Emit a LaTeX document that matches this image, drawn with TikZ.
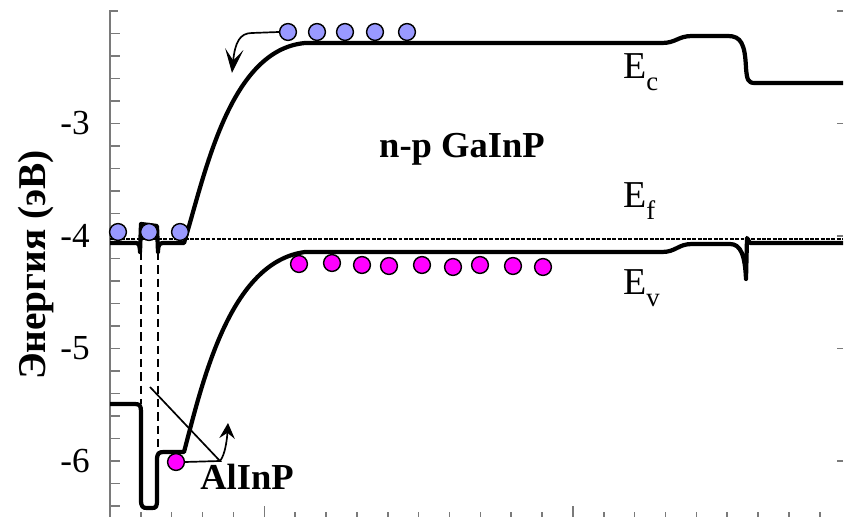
\documentclass[tikz,border=0pt]{standalone}
\usepackage{fontspec}
\setmainfont{Liberation Serif}
\usepackage{tikz}
\usetikzlibrary{arrows.meta}
\definecolor{elecblue}{HTML}{9999FF}
\definecolor{holemag}{HTML}{FF00FF}
\definecolor{axisgray}{HTML}{7A7A7A}
\newcommand{\Elvl}[1]{E\raisebox{-0.3cm}{\fontsize{19}{20}\selectfont #1}}

\begin{document}
\begin{tikzpicture}[x=0.025cm, y=-0.025cm,
    band/.style={line width=3pt, line join=round},
    fermi/.style={line width=1.4pt, dash pattern=on 2.8pt off 1pt},
    layeredge/.style={line width=1.4pt, dash pattern=on 6pt off 3.5pt},
    axisline/.style={axisgray, line width=1.1pt},
    elec/.style={circle, draw, fill=elecblue, line width=1pt, minimum size=0.42cm, inner sep=0pt},
    hole/.style={circle, draw, fill=holemag, line width=1pt, minimum size=0.42cm, inner sep=0pt},
    lvl/.style={font=\fontsize{27}{30}\selectfont, anchor=base west, inner sep=0pt},
    title/.style={font=\fontsize{26}{30}\selectfont\bfseries, anchor=base, inner sep=0pt},
    ticklbl/.style={font=\fontsize{25}{28}\selectfont, anchor=east, inner sep=0pt},
    pointer/.style={line width=1.2pt}]
  \useasboundingbox (0,0) rectangle (844,517);

  % axes
  \draw[axisline] (110,517) -- (110,11) -- (118,11);
  \foreach \k in {1,...,22} {\draw[axisline] (110,{11+22.5*\k}) -- ++(10,0);}
  \foreach \yy in {11,123.5,236,348.5,461} {\draw[axisline] (843,\yy) -- ++(-6,0);}
  \foreach \k in {1,...,23} {\draw[axisline] ({110+30.86*\k},517) -- ++(0,-5);}
  \foreach \xx in {264.3,572.9} {\draw[axisline] (\xx,517) -- ++(0,-11);}
  \node[ticklbl] (t3) at (90,123.5) {-3};
  \node[ticklbl] (t4) at (90,236) {-4};
  \node[ticklbl] (t5) at (90,348.5) {-5};
  \node[ticklbl] (t6) at (90,461) {-6};
  \node[font=\fontsize{28}{30}\selectfont\bfseries, rotate=90, anchor=base, inner sep=0pt] (ylab) at (45,265) {Энергия (эВ)};

  % Fermi level and AlInP window
  \draw[fermi] (110,239) -- (843,239);
  \draw[layeredge] (141,252) -- (141,404);
  \draw[layeredge] (158,252) -- (158,447);

  % conduction band
  \draw[band] (110,243) -- (136,243) .. controls (139,243) and (140,246) .. (140,252) -- (141,224) -- (157,226)
    -- (158,252) .. controls (158,246) and (159,243) .. (163,243) -- (184,243)
    .. controls (205,175) and (229,50) .. (305,43) -- (662,43)
    .. controls (676,43) and (678,36) .. (692,36) -- (728,36)
    .. controls (741,36) and (745,44) .. (746,68) .. controls (747,80) and (748,83) .. (755,83) -- (843,83);

  % valence band
  \draw[band] (110,404) -- (135,404) .. controls (140,404) and (141,406) .. (141,412) -- (141,500)
    .. controls (141,507) and (143,508) .. (147,508) -- (152,508) .. controls (156,508) and (157,507) .. (157,500)
    -- (157,460) .. controls (157,453) and (159,452) .. (164,452) -- (184,452)
    .. controls (203,380) and (230,262) .. (305,252) -- (662,252)
    .. controls (676,252) and (678,244) .. (692,244) -- (730,244)
    .. controls (741,244) and (745,256) .. (746,279) -- (747,238) -- (750,243) -- (843,243);

  % electrons
  \node[elec] (e1) at (288,32) {};
  \node[elec] (e2) at (317,32) {};
  \node[elec] (e3) at (345,32) {};
  \node[elec] (e4) at (375,32) {};
  \node[elec] (e5) at (407,32) {};
  \node[elec] (f1) at (118,232) {};
  \node[elec] (f2) at (149,232) {};
  \node[elec] (f3) at (180,232) {};

  % holes
  \node[hole] (h1) at (299,264) {};
  \node[hole] (h2) at (332,263) {};
  \node[hole] (h3) at (362,265) {};
  \node[hole] (h4) at (389,266) {};
  \node[hole] (h5) at (422,265) {};
  \node[hole] (h6) at (453,267) {};
  \node[hole] (h7) at (480,265) {};
  \node[hole] (h8) at (513,266) {};
  \node[hole] (h9) at (543,267) {};
  \node[hole] (hA) at (176,462) {};

  % labels
  \node[lvl] (Ec) at (623,79) {\Elvl{c}};
  \node[lvl] (Ef) at (623,208) {\Elvl{f}};
  \node[lvl] (Ev) at (623,295) {\Elvl{v}};
  \node[title] (gainp) at (462,158) {n-p GaInP};
  \node[title] (alinp) at (247,490) {AlInP};

  % pointers
  \coordinate (tipE) at (232,73);
  \coordinate (jn) at (220,461);
  \coordinate (tipA) at (150,387);
  \coordinate (tipB) at (228,423);
  \draw[pointer, -{Stealth[length=17pt, width=13pt, inset=8pt]}] (e1.west) -- (252,33) .. controls (240,33) and (235,42) .. (tipE);
  \draw[pointer] (hA.east) -- (jn) -- (tipA);
  \draw[pointer, -{Stealth[length=11pt, width=11pt, inset=4pt]}] (jn) .. controls (225,455) and (227,440) .. (tipB);
\end{tikzpicture}
\end{document}
